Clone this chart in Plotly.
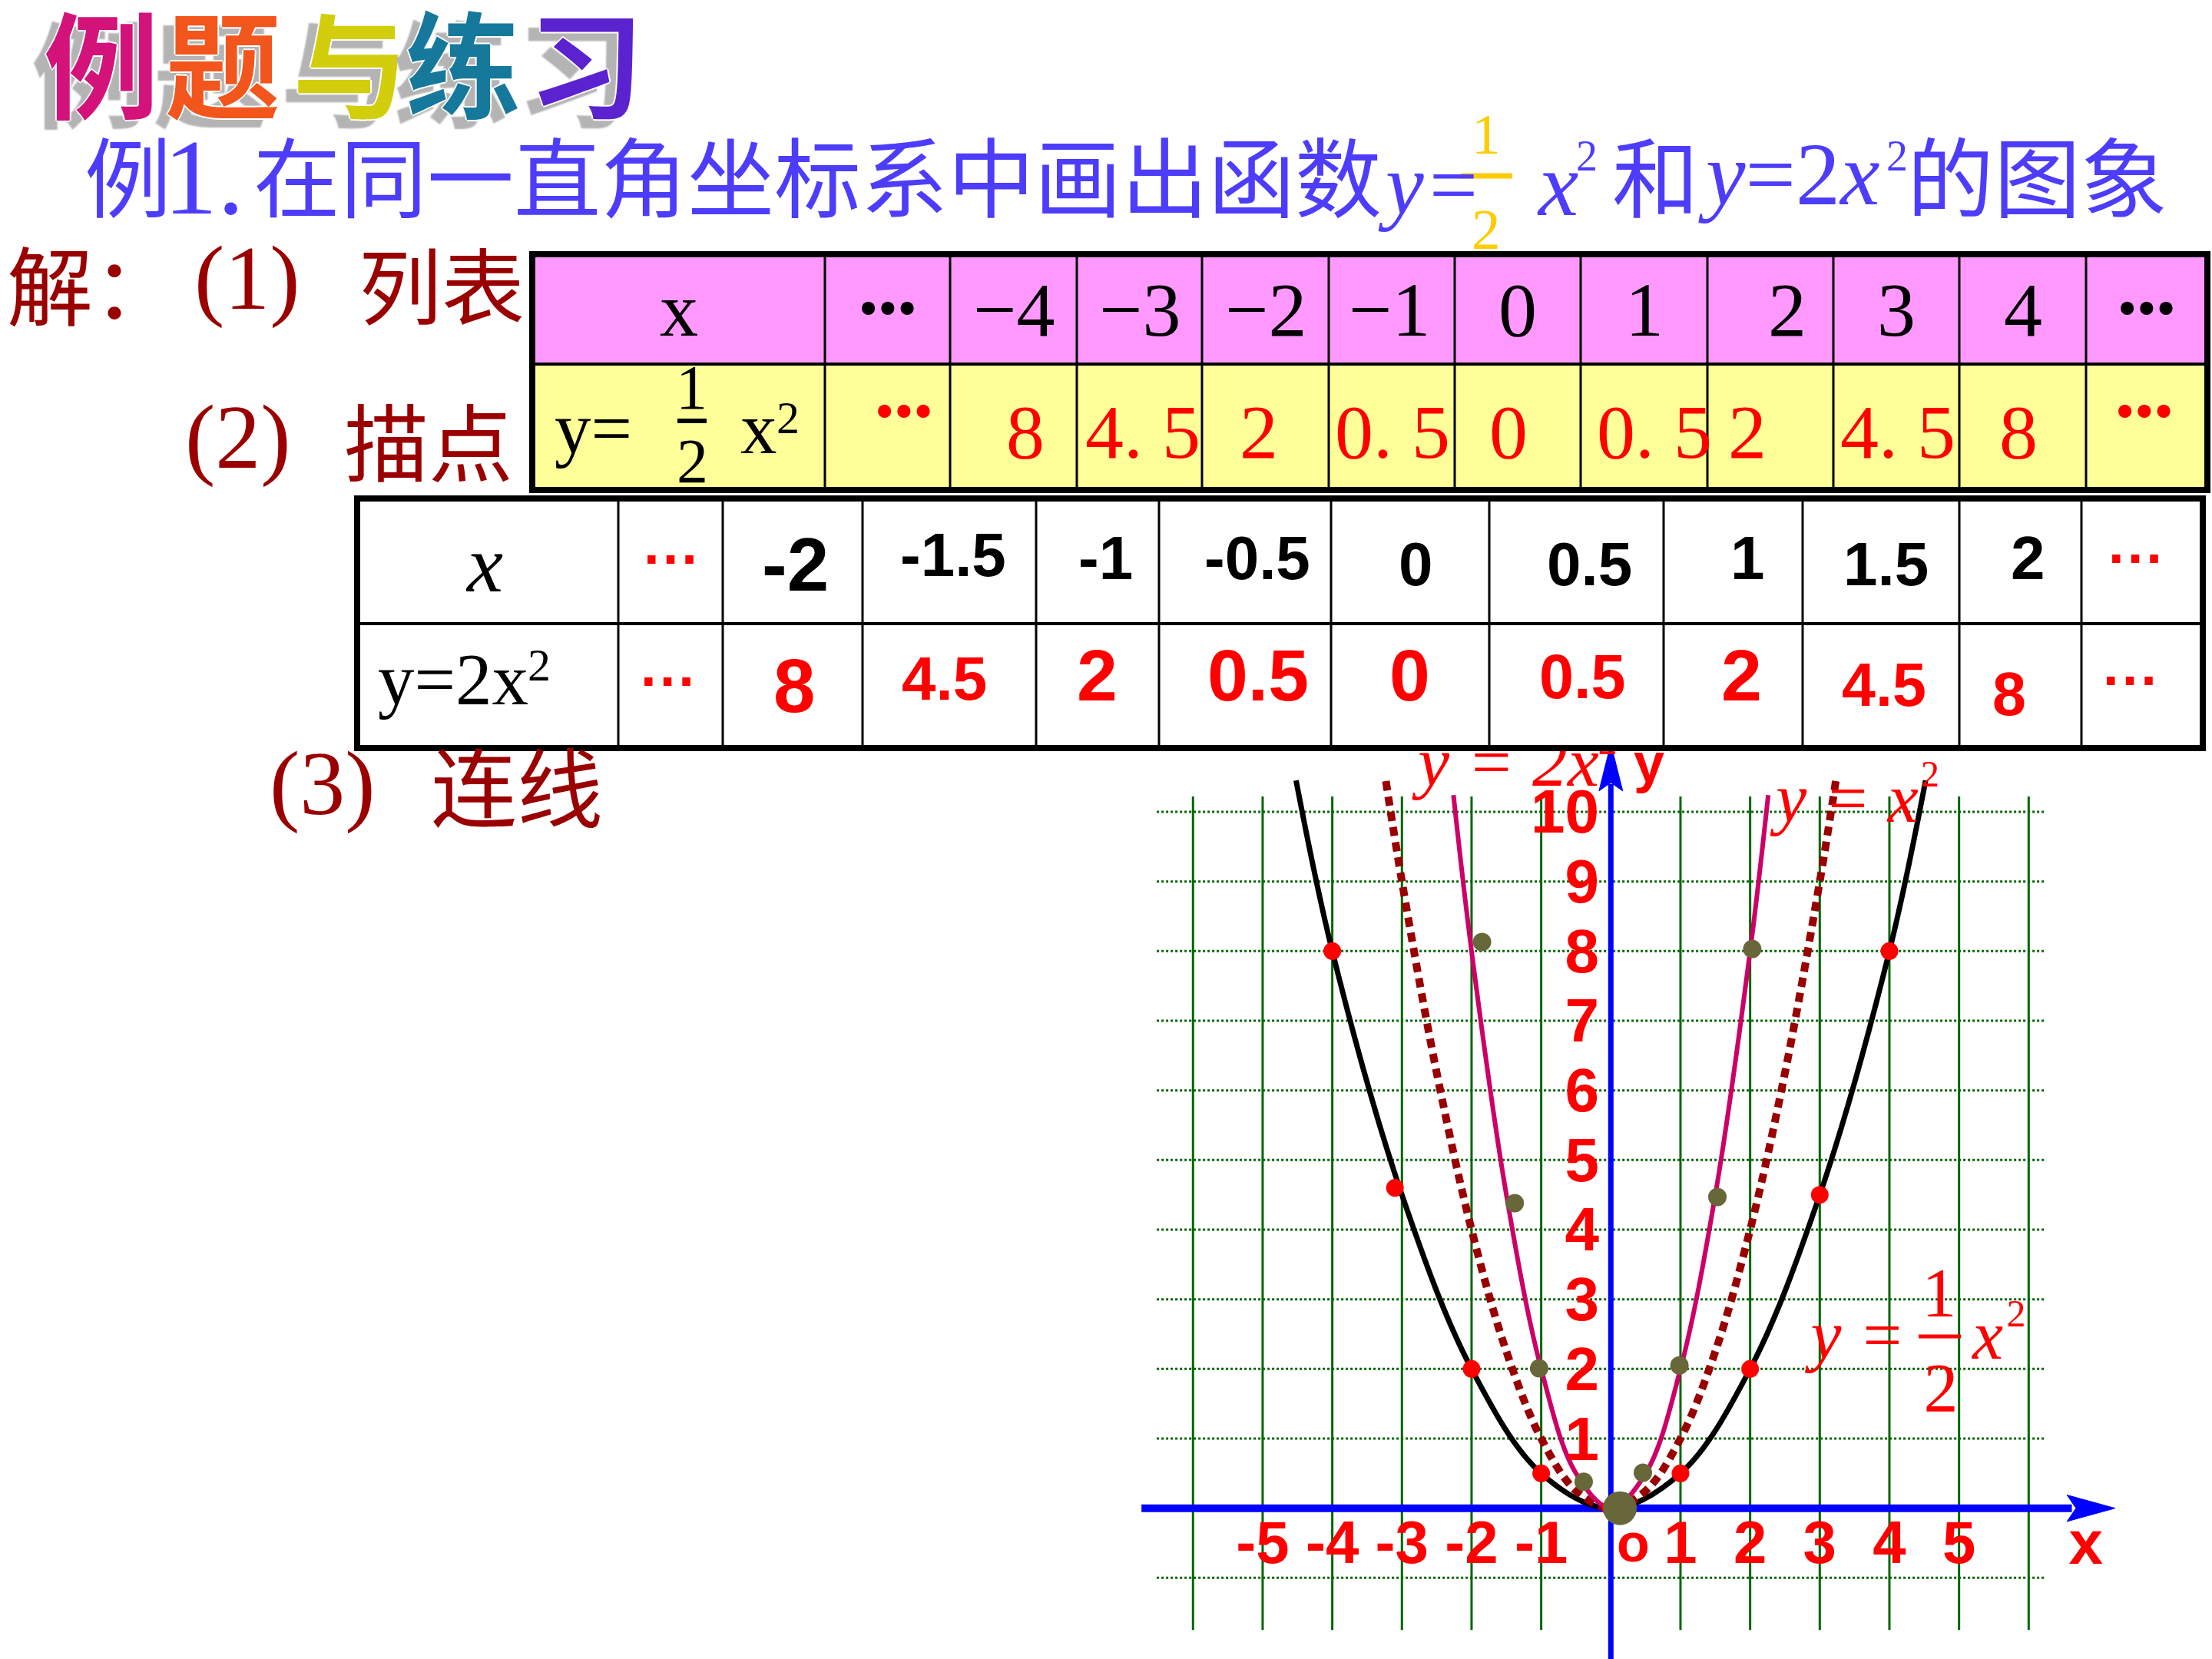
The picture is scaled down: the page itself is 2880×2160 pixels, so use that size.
import plotly.graph_objects as go

W, H = 2880, 2160
OX, OY, U = 2097.3, 1963.7, 90.67   # origin pixel position and pixels per unit of the drawn coordinate plane

# ---------------- data ----------------
title_chars = ["例", "题", "与", "练", "习"]
title_colors = ["#D3137A", "#F2561C", "#D2CE0C", "#16799C", "#5B22CF"]

tbl1_x = [-4, -3, -2, -1, 0, 1, 2, 3, 4]
tbl1_y = [8, 4.5, 2, 0.5, 0, 0.5, 2, 4.5, 8]
tbl2_x = [-2, -1.5, -1, -0.5, 0, 0.5, 1, 1.5, 2]
tbl2_y = [8, 4.5, 2, 0.5, 0, 0.5, 2, 4.5, 8]

# curve nodes
half_x = [-4.52, -4, -3, -2, -1, 0, 1, 2, 3, 4, 4.52]
half_y = [10.45, 8, 4.5, 2, 0.5, 0, 0.5, 2, 4.5, 8, 10.45]
sq_x = [-3.23, -3, -2.5, -2, -1.5, -1, -0.5, 0, 0.5, 1, 1.5, 2, 2.5, 3, 3.23]
sq_y = [10.44, 9, 6.25, 4, 2.25, 1, 0.25, 0, 0.25, 1, 2.25, 4, 6.25, 9, 10.44]
two_x = [-2.26, -2, -1.5, -1, -0.5, 0, 0.5, 1, 1.5, 2, 2.26]
two_y = [10.24, 8, 4.5, 2, 0.5, 0, 0.5, 2, 4.5, 8, 10.24]

# plotted dots as they appear on the slide
red_x = [-4, -3.1, -2, -1, 0, 1, 2, 3, 4]
red_y = [8, 4.6, 2, 0.5, 0, 0.5, 2, 4.5, 8]
olive_x = [-1.85, -1.38, -1.03, -0.39, 0.46, 0.985, 1.53, 2.03]
olive_y = [8.13, 4.38, 2.01, 0.38, 0.51, 2.05, 4.47, 8.03]
origin_x, origin_y = [0.13], [0]

ytick_vals = [1, 2, 3, 4, 5, 6, 7, 8, 9, 10]
xtick_vals = [-5, -4, -3, -2, -1, 1, 2, 3, 4, 5]

# ---------------- helpers ----------------
def dx(p):
    return (p - OX) / U


def dy(p):
    return (OY - p) / U


SERIF = "Liberation Serif"
SANS = "Liberation Sans"
CJK = "Noto Sans CJK SC"
BLUE = "#4D3DFA"
DRED = "#9A0000"
RED = "#FF0000"
TSHIFT = 0.15   # scatter-text vertical correction (in em)

A = []


def ann(text, x, y, size, color="black", family=SERIF, xanchor="center",
        weight="normal", style="normal", shadow=None):
    f = dict(family=family, size=size, color=color, weight=weight, style=style)
    if shadow:
        f["shadow"] = shadow
    A.append(dict(text=text, x=x / W, y=1 - y / H, xref="paper", yref="paper",
                  xanchor=xanchor, yanchor="middle", showarrow=False,
                  borderpad=0, font=f))


S = []


def prect(x0, y0, x1, y1, fill=None, lw=0, lc="black"):
    S.append(dict(type="rect", xref="paper", yref="paper",
                  x0=x0 / W, x1=x1 / W, y0=1 - y0 / H, y1=1 - y1 / H,
                  fillcolor=fill if fill else "rgba(0,0,0,0)",
                  line=dict(width=lw, color=lc), layer="above"))


def pline(x0, y0, x1, y1, lw, color="black"):
    S.append(dict(type="line", xref="paper", yref="paper",
                  x0=x0 / W, x1=x1 / W, y0=1 - y0 / H, y1=1 - y1 / H,
                  line=dict(width=lw, color=color), layer="above"))


def fmt1(v):
    return f"{v:g}".replace("-", "\u2212").replace(".", ". ")


def fmt2(v):
    return f"{v:g}"


# ---------------- title ----------------
title_cx = [132, 290, 456, 603, 763]
for ch, col, cx in zip(title_chars, title_colors, title_cx):
    ann(ch, cx, 78, 150, color=col, family=CJK, weight="bold",
        shadow="2px 0 0 #fff, -2px 0 0 #fff, 0 2px 0 #fff, 0 -2px 0 #fff, -16px 12px 2px #b4b4b4")

# ---------------- line 2 (blue) ----------------
ann("例", 166, 225, 113, BLUE, CJK)
ann("1.", 212, 230, 140, BLUE, SERIF, xanchor="left")
ann("在同一直角坐标系中画出函数", 329, 225, 113, BLUE, CJK, xanchor="left")
ann("y=", 1793, 240, 112, BLUE, SERIF, xanchor="left", style="italic")
ann("1", 1935, 175, 75, "#FFCC00", SERIF)
ann("2", 1935, 298, 75, "#FFCC00", SERIF)
pline(1902, 229, 1969, 229, 7, "#FFCC00")
ann("x", 2000, 240, 118, BLUE, SERIF, xanchor="left", style="italic")
ann("2", 2066, 203, 56, BLUE, SERIF)
ann("和", 2098, 225, 113, BLUE, CJK, xanchor="left")
ann("<i>y</i>=2<i>x</i>", 2210, 227, 116, BLUE, SERIF, xanchor="left")
ann("2", 2470, 203, 56, BLUE, SERIF)
ann("的图象", 2482, 225, 113, BLUE, CJK, xanchor="left")

# ---------------- step labels (dark red) ----------------
ann("解：", 8, 367, 112, DRED, CJK, xanchor="left")
ann("(1)", 252, 362, 118, DRED, SERIF, xanchor="left")
ann("列表", 466, 367, 108, DRED, CJK, xanchor="left")
ann("(2)", 240, 570, 118, DRED, SERIF, xanchor="left")
ann("描点", 447, 571, 110, DRED, CJK, xanchor="left")
ann("(3)", 350, 1020, 118, DRED, SERIF, xanchor="left")
ann("连线", 560, 1020, 112, DRED, CJK, xanchor="left")

# ---------------- table 1 ----------------
c1 = [693, 1074, 1237, 1402, 1565, 1730, 1894, 2058, 2223, 2387, 2551, 2716, 2874]
r1 = [331, 474, 638]
prect(c1[0], r1[0], c1[-1], r1[1], fill="#FF99FF")
prect(c1[0], r1[1], c1[-1], r1[2], fill="#FFFF99")
for cx in c1[1:-1]:
    pline(cx, r1[0], cx, r1[2], 3)
pline(c1[0], r1[1], c1[-1], r1[1], 4)
prect(c1[0], r1[0], c1[-1], r1[2], lw=8)

cen1 = [(c1[i] + c1[i + 1]) / 2 for i in range(len(c1) - 1)]
ann("x", cen1[0], 403, 100, "black", SERIF)
ann("•••", cen1[1], 401, 72, "black", SERIF)
ann("•••", cen1[11], 401, 72, "black", SERIF)
hdr_dx = [0, 0, 0, -3, 0, 0, 22, 0, 0]
for i, v in enumerate(tbl1_x):
    ann(fmt1(v), cen1[i + 2] + hdr_dx[i], 403, 100, "black", SERIF)
row_dx = [15, 4, -9, 1, -12, 13, -30, 2, -6]
for i, v in enumerate(tbl1_y):
    ann(fmt1(v), cen1[i + 2] + row_dx[i], 562, 100, RED, SERIF)
ann("•••", 1177, 535, 72, RED, SERIF)
ann("•••", 2792, 535, 72, RED, SERIF)
ann("y=", 772, 558, 95, "black", SERIF)
ann("1", 900, 505, 82, "black", SERIF)
ann("2", 901, 600, 82, "black", SERIF)
pline(882, 548, 920, 548, 6)
ann("x", 988, 558, 95, "black", SERIF)
ann("2", 1026, 544, 60, "black", SERIF)

# ---------------- table 2 ----------------
c2 = [465, 805, 941, 1123, 1349, 1509, 1733, 1939, 2166, 2347, 2551, 2710, 2868]
r2 = [649, 812, 974]
prect(c2[0], r2[0], c2[-1], r2[2], fill="white")
for cx in c2[1:-1]:
    pline(cx, r2[0], cx, r2[2], 3)
pline(c2[0], r2[1], c2[-1], r2[1], 4)
prect(c2[0], r2[0], c2[-1], r2[2], lw=8)

ann("x", 630, 734, 106, "black", SERIF, style="italic")
ann("y=2x", 590, 885, 95, "black", SERIF)
ann("2", 702, 866, 60, "black", SERIF)
for (x, y) in [(875, 727), (2782, 726), (871, 887), (2775, 885)]:
    ann("···", x, y, 74, RED, SANS, weight="bold")

t2r1_x = [1035, 1241, 1439, 1637, 1843, 2069, 2275, 2455, 2640]
t2r1_y = [735, 723, 726, 726, 734, 734, 726, 734, 726]
t2r1_s = [98, 80, 80, 80, 80, 80, 80, 80, 80]
for v, x, y, s in zip(tbl2_x, t2r1_x, t2r1_y, t2r1_s):
    ann(fmt2(v), x, y, s, "black", SANS, weight="bold")
t2r2_x = [1034, 1229, 1428, 1638, 1836, 2060, 2267, 2453, 2616]
t2r2_y = [893, 884, 879, 879, 879, 881, 879, 891, 903]
t2r2_s = [98, 80, 95, 95, 95, 81, 95, 79, 79]
for v, x, y, s in zip(tbl2_y, t2r2_x, t2r2_y, t2r2_s):
    ann(fmt2(v), x, y, s, RED, SANS, weight="bold")

# ---------------- coordinate plane (data coordinates) ----------------
GREEN = "#006600"
for gx in range(-6, 7):
    S.append(dict(type="line", xref="x", yref="y", x0=gx, x1=gx, y0=-1.75, y1=10.22,
                  line=dict(color=GREEN, width=3), layer="below"))
for gy in range(-1, 11):
    S.append(dict(type="line", xref="x", yref="y", x0=-6.52, x1=6.24, y0=gy, y1=gy,
                  line=dict(color=GREEN, width=3, dash="dot"), layer="below"))
AX = "#0000FF"
S.append(dict(type="line", xref="x", yref="y", x0=-6.74, x1=6.62, y0=0, y1=0,
              line=dict(color=AX, width=10), layer="below"))
S.append(dict(type="path", xref="x", yref="y",
              path="M 6.55,0.19 L 7.24,0 L 6.55,-0.19 L 6.68,0 Z",
              fillcolor=AX, line=dict(color=AX, width=1), layer="below"))
S.append(dict(type="line", xref="x", yref="y", x0=0, x1=0, y0=-2.4, y1=10.4,
              line=dict(color=AX, width=7), layer="below"))
S.append(dict(type="path", xref="x", yref="y",
              path="M -0.17,10.3 L 0,10.98 L 0.17,10.3 L 0,10.42 Z",
              fillcolor=AX, line=dict(color=AX, width=1), layer="below"))

traces = []
traces.append(go.Scatter(x=half_x, y=half_y, mode="lines", line=dict(color="black", width=7, shape="spline")))
traces.append(go.Scatter(x=sq_x, y=sq_y, mode="lines",
                         line=dict(color="#990000", width=10, shape="spline", dash="12px,8px")))
traces.append(go.Scatter(x=two_x, y=two_y, mode="lines", line=dict(color="#CC0066", width=6, shape="spline")))
traces.append(go.Scatter(x=red_x, y=red_y, mode="markers", marker=dict(color=RED, size=23)))
traces.append(go.Scatter(x=olive_x, y=olive_y, mode="markers", marker=dict(color="#67673A", size=24)))
traces.append(go.Scatter(x=origin_x, y=origin_y, mode="markers", marker=dict(color="#67673A", size=44)))

# axis tick labels
traces.append(go.Scatter(x=[dx(2082)] * len(ytick_vals),
                         y=[v + 0.05 - TSHIFT * 80 / U for v in ytick_vals], mode="text",
                         text=[str(v) for v in ytick_vals], textposition="middle left",
                         textfont=dict(family=SANS, size=80, color=RED, weight="bold")))
traces.append(go.Scatter(x=xtick_vals, y=[-0.445 - TSHIFT * 78 / U] * len(xtick_vals), mode="text",
                         text=[str(v) for v in xtick_vals], textposition="middle center",
                         textfont=dict(family=SANS, size=78, color=RED, weight="bold")))
traces.append(go.Scatter(x=[0.32, 6.82], y=[-0.455 - TSHIFT * 70 / U, -0.445 - TSHIFT * 80 / U],
                         mode="text", text=["o", "x"], textposition="middle center",
                         textfont=dict(family=SANS, size=[70, 80], color=RED, weight="bold")))
traces.append(go.Scatter(x=[dx(2147)], y=[dy(989 + TSHIFT * 72)], mode="text", text=["y"],
                         textposition="middle center",
                         textfont=dict(family=SANS, size=72, color=RED, weight="bold")))


# curve labels
def lab(x, y, t, size, style="italic"):
    traces.append(go.Scatter(x=[dx(x)], y=[dy(y + TSHIFT * size)], mode="text", text=[t],
                             textposition="middle center",
                             textfont=dict(family=SERIF, size=size, color=RED, style=style)))


lab(1964, 986, "y = 2x", 92)
lab(2093, 962, "2", 50, "normal")
lab(2405, 1034, "y = x", 90)
lab(2513, 1005, "2", 48, "normal")
lab(2419, 1733, "y =", 90)
lab(2525, 1678, "1", 90, "normal")
lab(2527, 1802, "2", 90, "normal")
lab(2588, 1733, "x", 90)
lab(2625, 1707, "2", 50, "normal")
traces.append(go.Scatter(x=[dx(2498), dx(2553)], y=[dy(1740), dy(1740)], mode="lines",
                         line=dict(color=RED, width=5)))

fig = go.Figure(traces)
fig.update_layout(
    width=W, height=H, margin=dict(l=0, r=0, t=0, b=0, pad=0),
    paper_bgcolor="white", plot_bgcolor="white", showlegend=False,
    xaxis=dict(range=[dx(0), dx(W)], domain=[0, 1], visible=False, fixedrange=True),
    yaxis=dict(range=[dy(H), dy(0)], domain=[0, 1], visible=False, fixedrange=True),
    shapes=S, annotations=A,
)
fig.write_html("out.html")
